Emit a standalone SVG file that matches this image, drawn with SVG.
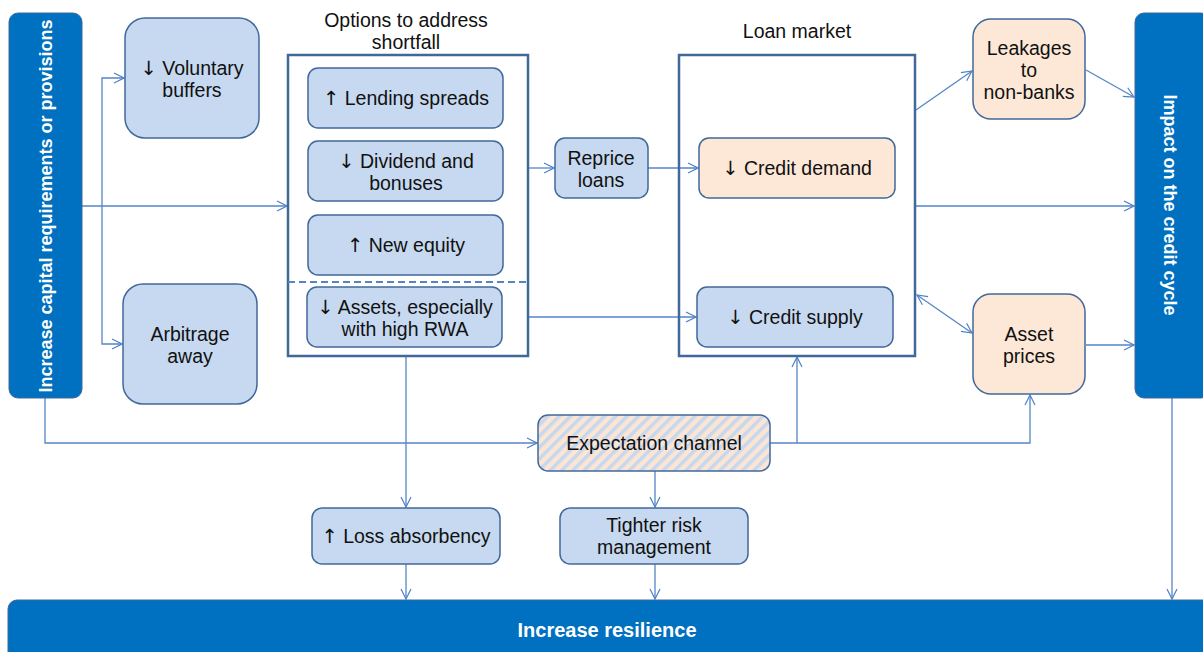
<svg xmlns="http://www.w3.org/2000/svg" width="1203" height="652" viewBox="0 0 1203 652">
<defs>
<marker id="arr" viewBox="0 0 12 12" refX="11" refY="6" markerWidth="12" markerHeight="12" markerUnits="userSpaceOnUse" orient="auto-start-reverse">
<path d="M1,1 L11,6 L1,11" fill="none" stroke="#4F81C7" stroke-width="1.2"/>
</marker>
<pattern id="hatch" width="8" height="8" patternUnits="userSpaceOnUse" patternTransform="rotate(45)">
<rect width="8" height="8" fill="#FCE5D3"/>
<rect width="3.5" height="8" fill="#C6D8EF"/>
</pattern>
<style>
.blue{fill:#C6D9F0;stroke:#41689A;stroke-width:1.5}
.peach{fill:#FDE8D8;stroke:#41689A;stroke-width:1.5}
.dark{fill:#0070C0;stroke:#41689A;stroke-width:1}
.frame{fill:none;stroke:#41689A;stroke-width:2.5}
.t{font-family:"Liberation Sans",Arial,sans-serif;font-size:19.5px;fill:#111;text-anchor:middle}
.a{font-family:"DejaVu Sans",sans-serif;fill:#111}
.w{font-family:"Liberation Sans",Arial,sans-serif;font-size:18px;font-weight:bold;fill:#fff;text-anchor:middle}
.c{fill:none;stroke:#5585C8;stroke-width:1.3}
</style>
</defs>
<rect width="1203" height="652" fill="#fff"/>

<g id="connectors">
<path class="c" d="M82,206 H287" marker-end="url(#arr)"/>
<path class="c" d="M124,78 H102 V344 H122" marker-start="url(#arr)" marker-end="url(#arr)"/>
<path class="c" d="M528,168 H554" marker-end="url(#arr)"/>
<path class="c" d="M648,168 H698" marker-end="url(#arr)"/>
<path class="c" d="M528,317 H696" marker-end="url(#arr)"/>
<path class="c" d="M916,110 L972,71" marker-end="url(#arr)"/>
<path class="c" d="M1086,70 L1134,97" marker-end="url(#arr)"/>
<path class="c" d="M916,206 H1134" marker-end="url(#arr)"/>
<path class="c" d="M917,295 L972,333" marker-start="url(#arr)" marker-end="url(#arr)"/>
<path class="c" d="M1086,345 H1134" marker-end="url(#arr)"/>
<path class="c" d="M1172,398 V599" marker-end="url(#arr)"/>
<path class="c" d="M45,398 V443 H537" marker-end="url(#arr)"/>
<path class="c" d="M770,443 H1030 V395" marker-end="url(#arr)"/>
<path class="c" d="M797,443 V357" marker-end="url(#arr)"/>
<path class="c" d="M406,356 V507" marker-end="url(#arr)"/>
<path class="c" d="M655,471 V507" marker-end="url(#arr)"/>
<path class="c" d="M406,564 V599" marker-end="url(#arr)"/>
<path class="c" d="M655,564 V599" marker-end="url(#arr)"/>
</g>

<g id="increase-capital">
<rect class="dark" x="9" y="13" width="73" height="385" rx="9"/>
<text class="w" transform="translate(52,206) rotate(-90)">Increase capital requirements or provisions</text>
</g>

<g id="voluntary-buffers">
<rect class="blue" x="125" y="18" width="134" height="120" rx="20"/>
<text class="t" x="192" y="75"><tspan class="a">↓</tspan> Voluntary</text>
<text class="t" x="192" y="97">buffers</text>
</g>

<g id="arbitrage-away">
<rect class="blue" x="123" y="284" width="134" height="120" rx="20"/>
<text class="t" x="190" y="341">Arbitrage</text>
<text class="t" x="190" y="363">away</text>
</g>

<g id="options">
<text class="t" x="406" y="27">Options to address</text>
<text class="t" x="406" y="49">shortfall</text>
<rect class="frame" x="288" y="55" width="240" height="301"/>
<path d="M288,282 H528" stroke="#5585C8" stroke-width="2" stroke-dasharray="7,4" fill="none"/>
</g>

<g id="lending-spreads">
<rect class="blue" x="308" y="68" width="195" height="60" rx="10"/>
<text class="t" x="406" y="105"><tspan class="a">↑</tspan> Lending spreads</text>
</g>

<g id="dividend">
<rect class="blue" x="308" y="141" width="195" height="60" rx="10"/>
<text class="t" x="406" y="168"><tspan class="a">↓</tspan> Dividend and</text>
<text class="t" x="406" y="190">bonuses</text>
</g>

<g id="new-equity">
<rect class="blue" x="308" y="215" width="195" height="60" rx="10"/>
<text class="t" x="406" y="252"><tspan class="a">↑</tspan> New equity</text>
</g>

<g id="assets">
<rect class="blue" x="307" y="287" width="195" height="60" rx="10"/>
<text class="t" x="405" y="314"><tspan class="a">↓</tspan> Assets, especially</text>
<text class="t" x="405" y="336">with high RWA</text>
</g>

<g id="reprice-loans">
<rect class="blue" x="555" y="138" width="93" height="60" rx="10"/>
<text class="t" x="601" y="165">Reprice</text>
<text class="t" x="601" y="187">loans</text>
</g>

<g id="loan-market">
<text class="t" x="797" y="38">Loan market</text>
<rect class="frame" x="679" y="55" width="236" height="301"/>
</g>

<g id="credit-demand">
<rect class="peach" x="699" y="138" width="196" height="60" rx="10"/>
<text class="t" x="797" y="175"><tspan class="a">↓</tspan> Credit demand</text>
</g>

<g id="credit-supply">
<rect class="blue" x="697" y="287" width="196" height="60" rx="10"/>
<text class="t" x="795" y="324"><tspan class="a">↓</tspan> Credit supply</text>
</g>

<g id="leakages">
<rect class="peach" x="973" y="19" width="112" height="100" rx="18"/>
<text class="t" x="1029" y="55">Leakages</text>
<text class="t" x="1029" y="77">to</text>
<text class="t" x="1029" y="99">non-banks</text>
</g>

<g id="asset-prices">
<rect class="peach" x="973" y="294" width="112" height="100" rx="18"/>
<text class="t" x="1029" y="341">Asset</text>
<text class="t" x="1029" y="363">prices</text>
</g>

<g id="impact">
<rect class="dark" x="1135" y="13" width="75" height="385" rx="9"/>
<text class="w" transform="translate(1164,205) rotate(90)">Impact on the credit cycle</text>
</g>

<g id="expectation">
<rect x="538" y="415" width="232" height="56" rx="10" fill="url(#hatch)" stroke="#41689A" stroke-width="1.5"/>
<text class="t" x="654" y="450">Expectation channel</text>
</g>

<g id="loss-absorbency">
<rect class="blue" x="312" y="508" width="188" height="56" rx="10"/>
<text class="t" x="406" y="543"><tspan class="a">↑</tspan> Loss absorbency</text>
</g>

<g id="tighter-risk">
<rect class="blue" x="560" y="508" width="188" height="56" rx="10"/>
<text class="t" x="654" y="532">Tighter risk</text>
<text class="t" x="654" y="554">management</text>
</g>

<g id="increase-resilience">
<rect class="dark" x="8" y="600" width="1205" height="70" rx="9"/>
<text class="w" x="607" y="637" style="font-size:20px">Increase resilience</text>
</g>
</svg>
